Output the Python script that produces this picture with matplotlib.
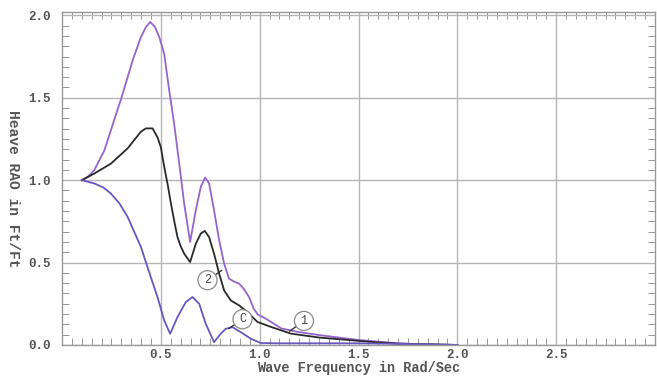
import numpy as np
import matplotlib
matplotlib.use("Agg")
import matplotlib.pyplot as plt
from matplotlib.ticker import MultipleLocator

# curva superior (roxa)
freq_1 = [0.10, 0.13, 0.163, 0.214, 0.264, 0.306, 0.357, 0.399, 0.425, 0.446, 0.47, 0.492, 0.517, 0.542,
          0.567, 0.593, 0.618, 0.648, 0.677, 0.702, 0.724, 0.744, 0.769, 0.795, 0.820, 0.845, 0.87, 0.896,
          0.92, 0.946, 0.97, 0.99, 1.03, 1.07, 1.11, 1.19, 1.30, 1.40, 1.50, 1.60, 1.70, 1.80, 2.00]
rao_1 = [1.00, 1.02, 1.06, 1.18, 1.365, 1.52, 1.726, 1.868, 1.93, 1.96, 1.93, 1.868, 1.766, 1.547,
         1.345, 1.10, 0.858, 0.625, 0.818, 0.959, 1.016, 0.980, 0.818, 0.635, 0.494, 0.402, 0.385, 0.372,
         0.34, 0.291, 0.22, 0.185, 0.16, 0.13, 0.10, 0.08, 0.06, 0.045, 0.03, 0.02, 0.01, 0.005, 0.0]

# curva do meio (preta)
freq_2 = [0.10, 0.163, 0.247, 0.332, 0.399, 0.424, 0.458, 0.483, 0.50, 0.517, 0.535, 0.551, 0.568, 0.584,
          0.60, 0.618, 0.648, 0.677, 0.702, 0.722, 0.744, 0.769, 0.795, 0.820, 0.854, 0.896, 0.938, 0.988,
          1.056, 1.157, 1.30, 1.40, 1.50, 1.60, 1.70, 2.00]
rao_2 = [1.00, 1.04, 1.10, 1.193, 1.294, 1.314, 1.314, 1.26, 1.20, 1.081, 0.97, 0.858, 0.75, 0.655,
         0.60, 0.554, 0.503, 0.615, 0.676, 0.692, 0.655, 0.554, 0.433, 0.331, 0.270, 0.240, 0.200, 0.14,
         0.11, 0.069, 0.045, 0.035, 0.025, 0.015, 0.008, 0.0]

# curva inferior (C)
freq_c = [0.10, 0.163, 0.21, 0.247, 0.29, 0.332, 0.399, 0.449, 0.483, 0.517, 0.547, 0.584, 0.626, 0.660,
          0.694, 0.727, 0.769, 0.803, 0.828, 0.862, 0.904, 0.955, 1.005, 1.10, 1.50, 1.80, 2.00]
rao_c = [1.00, 0.98, 0.955, 0.919, 0.86, 0.777, 0.595, 0.412, 0.291, 0.149, 0.068, 0.169, 0.260, 0.291,
         0.250, 0.129, 0.017, 0.068, 0.098, 0.108, 0.078, 0.038, 0.012, 0.01, 0.01, 0.005, 0.0]

fonte = "Liberation Mono"
cinza = "#555555"

fig = plt.figure(figsize=(6.57, 3.77), dpi=100)
ax = fig.add_axes([0.0944, 0.085, 0.9026, 0.883])

ax.plot(freq_1, rao_1, color="#9565cc", lw=1.3)
ax.plot(freq_2, rao_2, color="#2a2a2a", lw=1.3)
ax.plot(freq_c, rao_c, color="#6a56c0", lw=1.3)

#rótulos circulados-------------------------------------------------
rotulos = [("2", (0.736, 0.393), (0.808, 0.453)),
           ("C", (0.913, 0.156), (0.843, 0.099)),
           ("1", (1.224, 0.146), (1.151, 0.083))]
for txt, centro, ponta in rotulos:
    ax.annotate(txt, xy=ponta, xytext=centro, ha='center', va='center',
                fontsize=8.5, family=fonte, color="#444444",
                bbox=dict(boxstyle="circle,pad=0.3", fc="white", ec="#8a8a8a", lw=0.9),
                arrowprops=dict(arrowstyle="-", color="#333333", lw=1.0, shrinkA=0, shrinkB=0))
#-------------------------------------------------------------------

ax.set_xlim(0, 3.0)
ax.set_ylim(0, 2.02)
ax.xaxis.set_minor_locator(MultipleLocator(0.05))
ax.yaxis.set_minor_locator(MultipleLocator(0.0625))
ax.set_xticks([0.5, 1.0, 1.5, 2.0, 2.5])
ax.set_xticklabels(["0.5", "1.0", "1.5", "2.0", "2.5"])
ax.set_yticks([0.0, 0.5, 1.0, 1.5, 2.0])
ax.set_yticklabels(["0.0", "0.5", "1.0", "1.5", "2.0"])

ax.grid(which='major', color="#b5b5b5", lw=1.0)
ax.tick_params(which='both', direction='in', top=True, right=True, colors="#888888",
               labelcolor=cinza, labelsize=9)
ax.tick_params(which='major', length=0)
ax.tick_params(axis='x', which='major', pad=3)
ax.tick_params(axis='y', which='major', pad=8)
ax.tick_params(which='minor', length=5)
for lab in ax.get_xticklabels() + ax.get_yticklabels():
    lab.set_family(fonte)
    lab.set_fontweight("bold")
for s in ax.spines.values():
    s.set_color("#999999")
    s.set_linewidth(1.0)

ax.set_xlabel("Wave Frequency in Rad/Sec", family=fonte, fontweight="bold",
              fontsize=9.8, color=cinza, labelpad=0)
ax.set_ylabel("Heave RAO in Ft/Ft", family=fonte, fontweight="bold",
              fontsize=10.5, color=cinza, rotation=270, va='center', ha='center')
ax.yaxis.set_label_coords(-0.082, 0.47)

fig.savefig("out.png", dpi=100)
